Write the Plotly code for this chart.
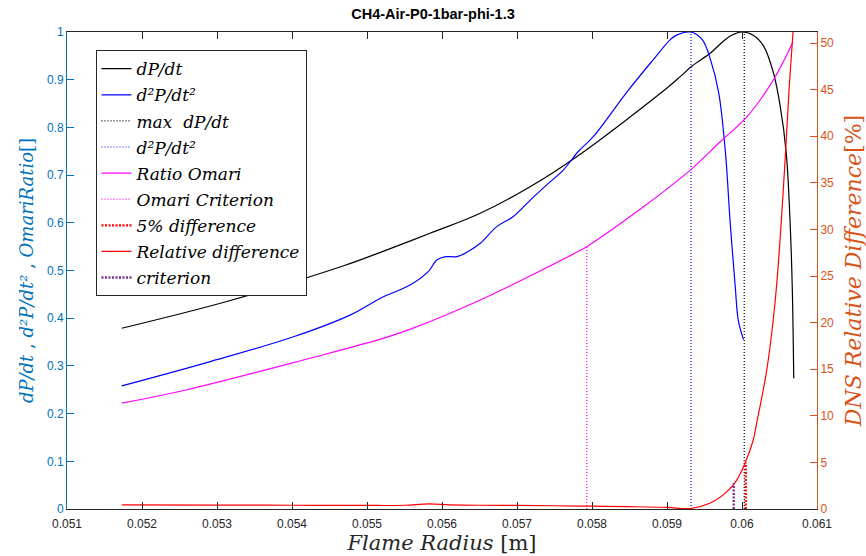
import plotly.graph_objects as go

# ---------------- data ----------------
dpdt_x = [0.05173, 0.05313, 0.05469, 0.05518, 0.05584, 0.05651, 0.05718, 0.05780,
          0.05900, 0.05918, 0.05933, 0.05958, 0.05971, 0.05985, 0.06000, 0.06015,
          0.06029, 0.06042, 0.06051, 0.06059, 0.06064, 0.06067, 0.06069]
dpdt_y = [0.379, 0.435, 0.510, 0.538, 0.578, 0.620, 0.676, 0.739,
          0.8825, 0.907, 0.928, 0.956, 0.975, 0.992, 1.000, 0.993,
          0.970, 0.914, 0.844, 0.746, 0.606, 0.466, 0.274]

d2p_x = [0.05173, 0.05291, 0.05402, 0.05478, 0.05518, 0.05558, 0.05582, 0.05593,
         0.05605, 0.05620, 0.05635, 0.05651, 0.05673, 0.05695, 0.05718, 0.05740,
         0.05762, 0.05782, 0.05802, 0.05847, 0.05878, 0.05905, 0.05912, 0.05931,
         0.05947, 0.05958, 0.05969, 0.05978, 0.05984, 0.05991, 0.05995, 0.06002]
d2p_y = [0.258, 0.309, 0.361, 0.407, 0.442, 0.470, 0.498, 0.522,
         0.529, 0.529, 0.540, 0.557, 0.592, 0.613, 0.648, 0.680,
         0.711, 0.750, 0.781, 0.875, 0.935, 0.985, 0.993, 1.000,
         0.984, 0.942, 0.872, 0.746, 0.606, 0.466, 0.396, 0.355]

omari_x = [0.05173, 0.05260, 0.05424, 0.05518, 0.05558, 0.05651, 0.05784, 0.05793,
           0.05869, 0.05933, 0.05971, 0.06007, 0.06042, 0.06068]
omari_y = [0.222, 0.250, 0.316, 0.356, 0.377, 0.438, 0.542, 0.550,
           0.634, 0.713, 0.770, 0.823, 0.900, 0.979]

reldiff_x = [0.05173, 0.05300, 0.05400, 0.05500, 0.05550, 0.05582, 0.05610, 0.05650,
             0.05700, 0.05750, 0.05800, 0.05850, 0.05900, 0.05931, 0.05957, 0.05980,
             0.05993, 0.06004, 0.06015, 0.06020, 0.06033, 0.06044, 0.06051, 0.06058,
             0.06063, 0.06068]
reldiff_y = [0.45, 0.42, 0.40, 0.38, 0.40, 0.54, 0.45, 0.40,
             0.38, 0.35, 0.30, 0.25, 0.17, 0.05, 0.61, 1.86,
             3.10, 4.90, 7.40, 9.40, 14.9, 22.1, 29.2, 38.2,
             45.3, 51.18]

# vertical markers
max_dpdt_x, max_dpdt_top = 0.06003, 1.0
max_d2p_x, max_d2p_top = 0.05932, 1.0
omari_crit_x, omari_crit_top = 0.05793, 0.550
diff5_x, diff5_top = 0.06005, 5.0
crit_x, crit_top = 0.05989, 2.76

x_tickvals = [0.051, 0.052, 0.053, 0.054, 0.055, 0.056, 0.057, 0.058, 0.059, 0.060, 0.061]
x_ticktext = ["0.051", "0.052", "0.053", "0.054", "0.055", "0.056", "0.057", "0.058", "0.059", "0.06", "0.061"]
y_tickvals = [0, 0.1, 0.2, 0.3, 0.4, 0.5, 0.6, 0.7, 0.8, 0.9, 1]
y_ticktext = ["0", "0.1", "0.2", "0.3", "0.4", "0.5", "0.6", "0.7", "0.8", "0.9", "1"]
y2_tickvals = [0, 5, 10, 15, 20, 25, 30, 35, 40, 45, 50]

legend_names = ["<i>dP/dt</i>", "<i>d²P/dt²</i>", "<i>max  dP/dt</i>", "<i>d²P/dt²</i>",
                "<i>Ratio Omari</i>", "<i>Omari Criterion</i>", "5% <i>difference</i>",
                "<i>Relative difference</i>", "<i>criterion</i>"]

# ---------------- figure ----------------
BLUE_AX = "#0072BD"
ORANGE_AX = "#D95319"
DARK = "#262626"
SERIF = "DejaVu Serif"
SANS = "Liberation Sans"

fig = go.Figure()
lw = 1.2
thin_dot = "1px,2px"
thick_dot = "2px,1.5px"
sm = 1.0

def add(x, y, name, color, width, dash=None, yaxis="y", spline=False, idx=0):
    line = dict(color=color, width=width)
    if dash:
        line["dash"] = dash
    if spline:
        line["shape"] = "spline"
        line["smoothing"] = sm
    fig.add_trace(go.Scatter(x=x, y=y, mode="lines", name=name, yaxis=yaxis,
                             legendgroup="g%d" % idx, line=line))

add(dpdt_x, dpdt_y, legend_names[0], "black", lw, spline=True, idx=0)
add(d2p_x, d2p_y, legend_names[1], "#0000FF", lw, spline=True, idx=1)
add([max_dpdt_x, max_dpdt_x], [0, max_dpdt_top], legend_names[2], "black", lw, dash=thin_dot, idx=2)
add([max_d2p_x, max_d2p_x], [0, max_d2p_top], legend_names[3], "#0000FF", lw, dash=thin_dot, idx=3)
add(omari_x, omari_y, legend_names[4], "#FF00FF", lw, spline=True, idx=4)
add([omari_crit_x, omari_crit_x], [0, omari_crit_top], legend_names[5], "#FF00FF", lw, dash=thin_dot, idx=5)
add([diff5_x, diff5_x], [0, diff5_top], legend_names[6], "#FF0000", 2.2, dash=thick_dot, yaxis="y2", idx=6)
add(reldiff_x, reldiff_y, legend_names[7], "#FF0000", lw, yaxis="y2", spline=True, idx=7)
add([crit_x, crit_x], [0, crit_top], legend_names[8], "#7E2F8E", 2.4, dash=thick_dot, yaxis="y2", idx=8)

fig.update_layout(
    width=866, height=556,
    margin=dict(l=67, r=49, t=32, b=47, autoexpand=False),
    paper_bgcolor="white", plot_bgcolor="white",
    title=dict(text="<b>CH4-Air-P0-1bar-phi-1.3</b>", x=0.5, xanchor="center",
               y=0.975, yanchor="middle", font=dict(family=SANS, size=14.5, color="black")),
    showlegend=True,
    legend=dict(x=0.038, y=0.962, xanchor="left", yanchor="top",
                bgcolor="white", bordercolor=DARK, borderwidth=1,
                font=dict(family=SERIF, size=17, color="black", style="italic"),
                tracegroupgap=1, itemwidth=30),
    xaxis=dict(range=[0.051, 0.061], tickvals=x_tickvals, ticktext=x_ticktext,
               ticks="inside", ticklen=7, tickcolor=DARK, showline=True, linecolor=DARK,
               linewidth=1, mirror="ticks", showgrid=False, zeroline=False,
               ticklabelstandoff=4,
               tickfont=dict(family=SANS, size=12, color=DARK),
               title=dict(text="<i>Flame Radius</i> [m]", standoff=2,
                          font=dict(family=SERIF, size=21, color=DARK))),
    yaxis=dict(range=[0, 1], tickvals=y_tickvals, ticktext=y_ticktext,
               ticks="inside", ticklen=7, tickcolor=BLUE_AX, showline=True, linecolor=BLUE_AX,
               linewidth=1, showgrid=False, zeroline=False,
               tickfont=dict(family=SANS, size=12, color=BLUE_AX),
               title=dict(text="<i>dP/dt</i> , <i>d²P/dt²</i> , <i>OmariRatio</i>[]", standoff=8,
                          font=dict(family=SERIF, size=18, color=BLUE_AX))),
    yaxis2=dict(range=[0, max(reldiff_y)], tickvals=y2_tickvals, overlaying="y", side="right",
                ticks="inside", ticklen=7, tickcolor=ORANGE_AX, showline=True, linecolor=ORANGE_AX,
                linewidth=1, showgrid=False, zeroline=False,
                tickfont=dict(family=SANS, size=12, color=ORANGE_AX),
                title=dict(text="<i>DNS Relative Difference</i>[%]", standoff=12,
                           font=dict(family=SERIF, size=22, color=ORANGE_AX))),
)

fig.write_html("out.html", config={"displayModeBar": False},
               post_script="document.body.style.margin='0';document.body.style.overflow='hidden';")
